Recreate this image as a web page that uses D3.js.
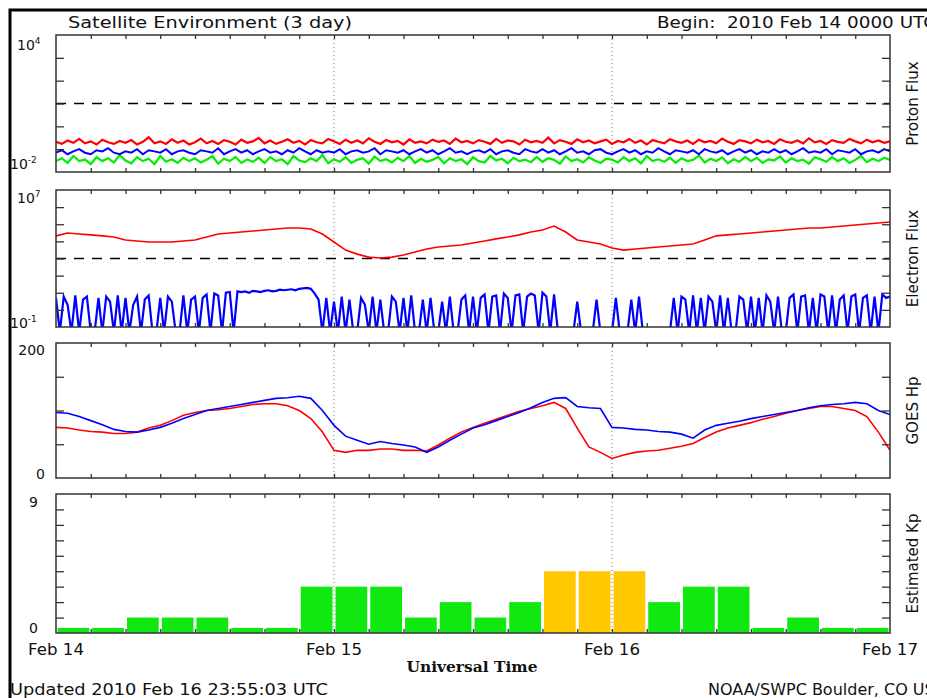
<!DOCTYPE html>
<html>
<head>
<meta charset="utf-8">
<script src="https://cdn.jsdelivr.net/npm/d3@7"></script>
<style>
  body { margin: 0; background: #fff; }
  text { font-family: "DejaVu Sans", sans-serif; fill: #111; }
</style>
</head>
<body>
<script>
// Satellite Environment (3 day), 2010 Feb 14 0000 UTC to Feb 17

var dayLabels = ["Feb 14", "Feb 15", "Feb 16", "Feb 17"];

// GOES proton flux (pfu), 30 min samples
var protonP10 = [
  0.21,0.17,0.24,0.19,0.28,0.18,0.22,0.16,0.26,0.20,0.17,0.23,
  0.19,0.25,0.16,0.21,0.33,0.18,0.22,0.17,0.27,0.19,0.24,0.16,
  0.20,0.29,0.18,0.23,0.17,0.25,0.21,0.16,0.26,0.19,0.22,0.31,
  0.18,0.24,0.17,0.21,0.27,0.19,0.23,0.16,0.25,0.20,0.18,0.28,
  0.22,0.17,0.26,0.19,0.24,0.18,0.30,0.21,0.17,0.25,0.20,0.23,
  0.16,0.27,0.19,0.22,0.18,0.26,0.21,0.24,0.17,0.29,0.20,0.23,
  0.18,0.25,0.21,0.17,0.28,0.19,0.24,0.22,0.16,0.26,0.20,0.23,
  0.19,0.32,0.18,0.25,0.21,0.17,0.27,0.20,0.24,0.18,0.22,0.26,
  0.17,0.23,0.20,0.28,0.19,0.24,0.16,0.25,0.21,0.18,0.27,0.22,
  0.19,0.24,0.17,0.26,0.20,0.23,0.18,0.29,0.21,0.17,0.25,0.22,
  0.18,0.26,0.20,0.23,0.17,0.27,0.21,0.19,0.24,0.18,0.30,0.20,
  0.23,0.17,0.25,0.21,0.19,0.28,0.22,0.18,0.26,0.20,0.24,0.19,
  0.22];
var protonP50 = [
  0.07,0.09,0.06,0.08,0.10,0.07,0.06,0.09,0.08,0.11,0.07,0.06,
  0.08,0.07,0.10,0.06,0.09,0.08,0.07,0.10,0.06,0.08,0.09,0.07,
  0.06,0.09,0.08,0.07,0.11,0.06,0.08,0.10,0.07,0.09,0.06,0.08,
  0.10,0.07,0.08,0.06,0.09,0.07,0.11,0.08,0.06,0.09,0.07,0.08,
  0.07,0.10,0.06,0.08,0.09,0.07,0.08,0.11,0.06,0.09,0.08,0.07,
  0.09,0.06,0.08,0.10,0.07,0.09,0.06,0.08,0.11,0.07,0.08,0.06,
  0.08,0.09,0.07,0.10,0.06,0.08,0.09,0.07,0.06,0.10,0.08,0.07,
  0.10,0.07,0.09,0.06,0.08,0.11,0.07,0.08,0.06,0.09,0.10,0.07,
  0.06,0.08,0.10,0.07,0.09,0.06,0.08,0.07,0.11,0.08,0.06,0.09,
  0.08,0.07,0.09,0.06,0.10,0.08,0.07,0.09,0.06,0.08,0.10,0.07,
  0.09,0.06,0.08,0.07,0.10,0.07,0.09,0.06,0.08,0.11,0.07,0.08,
  0.07,0.10,0.06,0.09,0.08,0.07,0.10,0.06,0.08,0.09,0.07,0.10,
  0.08];
var protonP100 = [
  0.03,0.04,0.025,0.05,0.03,0.035,0.022,0.045,0.03,0.04,0.026,0.055,
  0.032,0.024,0.045,0.03,0.038,0.022,0.05,0.028,0.036,0.025,0.042,0.03,
  0.04,0.026,0.034,0.05,0.023,0.038,0.03,0.046,0.025,0.035,0.028,0.042,
  0.025,0.045,0.03,0.036,0.022,0.05,0.032,0.027,0.04,0.03,0.055,0.024,
  0.036,0.028,0.044,0.025,0.034,0.04,0.023,0.048,0.03,0.036,0.026,0.042,
  0.03,0.05,0.025,0.038,0.028,0.034,0.045,0.024,0.04,0.03,0.036,0.022,
  0.044,0.03,0.026,0.05,0.032,0.038,0.024,0.042,0.03,0.035,0.027,0.046,
  0.028,0.04,0.034,0.023,0.048,0.03,0.036,0.026,0.044,0.032,0.025,0.038,
  0.035,0.026,0.045,0.03,0.04,0.024,0.05,0.03,0.036,0.028,0.042,0.025,
  0.04,0.03,0.034,0.052,0.026,0.038,0.03,0.044,0.024,0.036,0.028,0.046,
  0.03,0.042,0.025,0.036,0.032,0.048,0.026,0.04,0.03,0.035,0.023,0.044,
  0.036,0.028,0.045,0.03,0.04,0.025,0.034,0.05,0.027,0.038,0.03,0.042,
  0.034];

// GOES electron flux: >2 MeV hourly (red), >0.8 MeV 20 min (blue)
var electronHi = [
  2.1e4,3.1e4,2.7e4,2.4e4,2.1e4,1.8e4,1.2e4,1.05e4,9.2e3,9.2e3,
  9.2e3,1.05e4,1.2e4,1.8e4,2.7e4,3.1e4,3.5e4,4.0e4,4.6e4,5.3e4,
  6.0e4,6.0e4,5.3e4,2.7e4,9.2e3,3.1e3,1.8e3,1.2e3,1.07e3,1.2e3,
  1.6e3,2.4e3,3.6e3,4.7e3,5.4e3,6.1e3,8.1e3,1.05e4,1.4e4,1.8e4,
  2.4e4,3.5e4,4.6e4,7.9e4,3.5e4,1.2e4,9.2e3,7.0e3,4.1e3,3.1e3,
  3.6e3,4.1e3,4.7e3,5.4e3,6.1e3,7.0e3,1.2e4,2.1e4,2.4e4,2.7e4,
  3.1e4,3.5e4,4.0e4,4.6e4,5.3e4,6.0e4,6.0e4,6.9e4,7.9e4,9.0e4,
  1.03e5,1.18e5,1.35e5];
var electronLo = [
  5,0.05,6,2,0.05,7,0.05,4,6,0.05,0.05,5,
  0.05,6,3,0.05,7,0.05,5,0.05,2,6,0.05,4,
  7,0.05,0.05,5,0.05,6,3,0.05,0.05,7,0.05,4,
  6,0.05,5,8,0.05,9,7,0.05,10,11,0.05,12,
  11,12,10,13,12,11,13,14,12,13,15,14,
  15,16,14,17,18,19,17,9,4,0.05,5,0.05,
  3,0.05,6,0.05,4,0.05,0.05,5,2,0.05,6,0.05,
  4,0.05,0.05,6,3,0.05,5,0.05,7,0.05,0.05,4,
  0.05,5,0.05,0.05,3,0.05,6,0.05,0.05,4,7,0.05,
  6,0.05,5,8,0.05,6,7,0.05,9,5,0.05,7,
  8,0.05,6,9,7,0.05,10,6,0.05,8,0.05,0.05,
  0.05,0.05,0.05,3,0.05,0.05,0.05,0.05,4,0.05,0.05,0.05,
  0.05,5,0.05,0.05,0.05,4,0.05,6,0.05,0.05,0.05,0.05,
  0.05,0.05,0.05,0.05,5,0.05,6,4,0.05,7,0.05,5,
  0.05,6,3,0.05,7,0.05,5,0.05,0.05,6,4,0.05,
  6,0.05,5,0.05,7,3,0.05,6,0.05,0.05,5,8,
  0.05,6,7,0.05,5,0.05,8,6,0.05,7,0.05,4,
  7,0.05,6,8,0.05,5,7,0.05,6,0.05,8,5,6];

// GOES Hp (nT), hourly
var hpRed = [
  75,74,71,69,68,66,66,68,74,78,85,93,97,100,101,103,106,109,110,110,
  107,100,88,68,41,38,41,41,43,43,41,41,40,49,59,68,75,81,87,93,
  99,103,107,112,103,74,46,38,29,34,38,40,41,44,47,51,60,68,74,78,
  82,87,91,96,100,103,106,106,103,100,91,68,41];
var hpBlue = [
  97,96,91,85,79,72,69,68,71,75,81,88,94,100,103,106,109,112,115,118,
  119,121,118,100,78,62,56,50,54,51,49,46,38,46,56,65,74,79,85,91,
  97,104,112,118,119,106,104,103,75,74,72,71,69,68,65,59,71,78,81,84,
  88,91,94,97,100,104,107,109,110,112,110,100,94];

// estimated Kp, 3 hour intervals
var kpValues = [0.33,0.33,1,1,1,0.33,0.33,3,3,3,1,2,1,2,4,4,4,2,3,3,0.33,1,0.33,0.33];

var protonThreshold = 10, electronThreshold = 1000;

var width = 927, height = 698;
var x0 = 56, x1 = 890;

var svg = d3.select("body").append("svg")
    .attr("width", width)
    .attr("height", height);

var x = d3.scaleLinear().domain([0, 72]).range([x0, x1]);

// outer frame (only top/left visible)
svg.append("rect")
    .attr("x", 10).attr("y", 10)
    .attr("width", 1000).attr("height", 1000)
    .attr("fill", "none").attr("stroke", "#000").attr("stroke-width", 3);

var panels = [
  {top: 35, bottom: 172, name: "Proton Flux"},
  {top: 190, bottom: 327, name: "Electron Flux"},
  {top: 343, bottom: 478, name: "GOES Hp"},
  {top: 494, bottom: 633, name: "Estimated Kp"}
];

var yProton = d3.scaleLog().domain([1e-2, 1e4]).range([panels[0].bottom, panels[0].top]);
var yElectron = d3.scaleLog().domain([1e-1, 1e7]).range([panels[1].bottom, panels[1].top]);
var yHp = d3.scaleLinear().domain([0, 200]).range([panels[2].bottom, panels[2].top]);
var yKp = d3.scaleLinear().domain([0, 9]).range([panels[3].bottom, panels[3].top]);

var yScales = [yProton, yElectron, yHp, yKp];
var yTicks = [
  [1e-1, 1, 10, 100, 1000],
  [1, 10, 100, 1000, 1e4, 1e5, 1e6],
  [50, 100, 150],
  [1, 2, 3, 4, 5, 6, 7, 8]
];

function series(values) {
  var step = 72 / (values.length - 1);
  return values.map(function(v, i) { return [i * step, v]; });
}

panels.forEach(function(p, k) {
  svg.append("clipPath").attr("id", "clip" + k)
    .append("rect")
      .attr("x", x0).attr("y", p.top)
      .attr("width", x1 - x0).attr("height", p.bottom - p.top);

  p.g = svg.append("g");
  p.data = svg.append("g").attr("clip-path", "url(#clip" + k + ")");

  // day separators
  [24, 48].forEach(function(h) {
    p.g.append("line")
      .attr("x1", x(h)).attr("x2", x(h))
      .attr("y1", p.top).attr("y2", p.bottom)
      .attr("stroke", "#777").attr("stroke-width", 1)
      .attr("stroke-dasharray", "1,3");
  });

  // axes with inward ticks
  var y = yScales[k];
  var axes = [
    [d3.axisLeft(y).tickValues(yTicks[k]).tickSize(-8), "translate(" + x0 + ",0)"],
    [d3.axisRight(y).tickValues(yTicks[k]).tickSize(-8), "translate(" + x1 + ",0)"],
    [d3.axisBottom(x).tickValues(d3.range(3, 72, 3)).tickSize(-4), "translate(0," + p.bottom + ")"],
    [d3.axisTop(x).tickValues(d3.range(3, 72, 3)).tickSize(-4), "translate(0," + p.top + ")"]
  ];
  axes.forEach(function(a) {
    var ax = svg.append("g")
        .attr("transform", a[1])
        .call(a[0].tickFormat(""));
    ax.select(".domain").remove();
    ax.selectAll("line").attr("stroke", "#333").attr("stroke-width", 1.3);
  });

  svg.append("rect")
      .attr("x", x0).attr("y", p.top)
      .attr("width", x1 - x0).attr("height", p.bottom - p.top)
      .attr("fill", "none").attr("stroke", "#333").attr("stroke-width", 1.5);

  svg.append("text")
      .attr("transform", "translate(918," + ((p.top + p.bottom) / 2) + ") rotate(-90)")
      .attr("text-anchor", "middle")
      .style("font-size", "15px")
      .text(p.name);
});

// left value labels
function powLabel(xp, yp, exp) {
  var t = svg.append("text").attr("x", xp).attr("y", yp).style("font-size", "14px");
  t.append("tspan").text("10");
  t.append("tspan").attr("dy", -6).style("font-size", "9px").text(exp);
}
powLabel(17, panels[0].top + 15, "4");
powLabel(10, panels[0].bottom - 3, "-2");
powLabel(17, panels[1].top + 13, "7");
powLabel(10, panels[1].bottom + 1, "-1");

function plainLabel(xp, yp, s) {
  svg.append("text").attr("x", xp).attr("y", yp)
      .attr("text-anchor", "end").style("font-size", "14px").text(s);
}
plainLabel(45, panels[2].top + 12, "200");
plainLabel(45, panels[2].bottom + 1, "0");
plainLabel(38, panels[3].top + 13, "9");
plainLabel(38, panels[3].bottom, "0");

// threshold lines
panels[0].data.append("line")
    .attr("x1", x0).attr("x2", x1)
    .attr("y1", yProton(protonThreshold)).attr("y2", yProton(protonThreshold))
    .attr("stroke", "#000").attr("stroke-width", 1.5).attr("stroke-dasharray", "10,8");
panels[1].data.append("line")
    .attr("x1", x0).attr("x2", x1)
    .attr("y1", yElectron(electronThreshold)).attr("y2", yElectron(electronThreshold))
    .attr("stroke", "#000").attr("stroke-width", 1.5).attr("stroke-dasharray", "10,8");

function drawLine(g, values, y, color, w) {
  var line = d3.line()
      .x(function(d) { return x(d[0]); })
      .y(function(d) { return y(d[1]); });
  g.append("path")
      .datum(series(values))
      .attr("d", line)
      .attr("fill", "none")
      .attr("stroke", color)
      .attr("stroke-width", w || 1.6);
}

drawLine(panels[0].data, protonP100, yProton, "#00ee00", 2.2);
drawLine(panels[0].data, protonP50, yProton, "#0000ff", 2);
drawLine(panels[0].data, protonP10, yProton, "#ff0000", 2.2);

drawLine(panels[1].data, electronLo, yElectron, "#0000ff", 2.2);
drawLine(panels[1].data, electronHi, yElectron, "#ff0000", 1.6);

drawLine(panels[2].data, hpRed, yHp, "#ff0000");
drawLine(panels[2].data, hpBlue, yHp, "#0000ff");

// Kp bars
var barW = x(3) - x(0);
panels[3].data.selectAll("rect.kp")
  .data(kpValues)
  .enter().append("rect")
    .attr("class", "kp")
    .attr("x", function(d, i) { return x(i * 3) + 1.5; })
    .attr("y", function(d) { return yKp(d); })
    .attr("width", barW - 3)
    .attr("height", function(d) { return yKp(0) - yKp(d); })
    .attr("fill", function(d) { return d >= 5 ? "#ff0000" : d >= 4 ? "#ffc800" : "#11e811"; });

// titles
svg.append("text").attr("x", 68).attr("y", 28)
    .style("font-size", "16px")
    .attr("textLength", 284).attr("lengthAdjust", "spacingAndGlyphs")
    .text("Satellite Environment (3 day)");
svg.append("text").attr("x", 657).attr("y", 28)
    .style("font-size", "16px").attr("xml:space", "preserve")
    .attr("textLength", 279).attr("lengthAdjust", "spacingAndGlyphs")
    .text("Begin:  2010 Feb 14 0000 UTC");

dayLabels.forEach(function(s, i) {
  svg.append("text")
      .attr("x", x(i * 24)).attr("y", 655)
      .attr("text-anchor", "middle")
      .style("font-size", "15px")
      .attr("textLength", 56).attr("lengthAdjust", "spacingAndGlyphs")
      .text(s);
});

svg.append("text").attr("x", 472).attr("y", 672)
    .attr("text-anchor", "middle")
    .style("font-family", "'DejaVu Serif', serif")
    .style("font-weight", "bold")
    .style("font-size", "14px")
    .attr("textLength", 131).attr("lengthAdjust", "spacingAndGlyphs")
    .text("Universal Time");

svg.append("text").attr("x", 10).attr("y", 695)
    .style("font-size", "16px")
    .attr("textLength", 318).attr("lengthAdjust", "spacingAndGlyphs")
    .text("Updated 2010 Feb 16 23:55:03 UTC");
svg.append("text").attr("x", 708).attr("y", 695)
    .style("font-size", "16px").text("NOAA/SWPC Boulder, CO USA");
</script>
</body>
</html>
